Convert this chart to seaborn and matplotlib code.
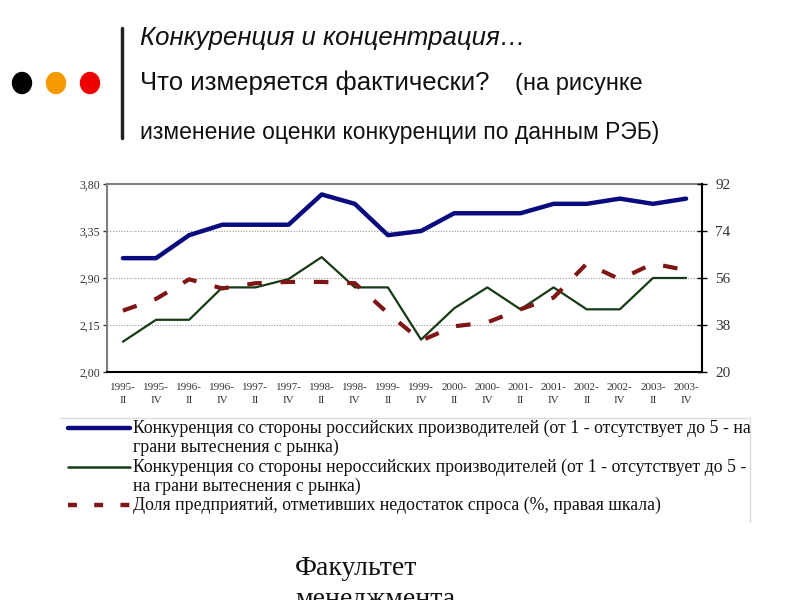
import matplotlib
matplotlib.use("Agg")
import matplotlib.pyplot as plt
import seaborn as sns
import pandas as pd
import numpy as np
from matplotlib.lines import Line2D
from matplotlib.patches import Ellipse

sns.set_theme(style="white")
plt.rcParams['font.family'] = ['Liberation Serif', 'DejaVu Serif']

periods = ["1995-\nII", "1995-\nIV", "1996-\nII", "1996-\nIV", "1997-\nII", "1997-\nIV",
           "1998-\nII", "1998-\nIV", "1999-\nII", "1999-\nIV", "2000-\nII", "2000-\nIV",
           "2001-\nII", "2001-\nIV", "2002-\nII", "2002-\nIV", "2003-\nII", "2003-\nIV"]
russian = [3.09, 3.09, 3.31, 3.41, 3.41, 3.41, 3.70, 3.61, 3.31, 3.35, 3.52, 3.52,
           3.52, 3.61, 3.61, 3.66, 3.61, 3.66]
foreign = [2.29, 2.50, 2.50, 2.81, 2.81, 2.89, 3.10, 2.81, 2.81, 2.31, 2.61, 2.81,
           2.60, 2.81, 2.60, 2.60, 2.90, 2.90]
demand = [43.5, 48.0, 55.5, 52.0, 54.0, 54.5, 54.5, 54.0, 42.5, 32.0, 37.5, 39.0,
          44.0, 48.5, 61.5, 55.5, 61.5, 59.0]
left_ticks = [2.00, 2.45, 2.90, 3.35, 3.80]
left_labels = ["2,00", "2,15", "2,90", "3,35", "3,80"]
right_ticks = [20, 38, 56, 74, 92]
legend_labels = [
    "Конкуренция со стороны российских производителей (от 1 - отсутствует до 5 - на\nграни вытеснения с рынка)",
    "Конкуренция со стороны нероссийских производителей (от 1 - отсутствует до 5 -\nна грани вытеснения с рынка)",
    "Доля предприятий, отметивших недостаток спроса (%, правая шкала)",
]
title1 = "Конкуренция и концентрация…"
title2a = "Что измеряется фактически?"
title2b = "(на рисунке"
title3 = "изменение оценки конкуренции по данным РЭБ)"
footer = "Факультет\nменеджмента"

df = pd.DataFrame({"x": np.arange(len(periods)), "russian": russian,
                   "foreign": foreign, "demand": demand})

c_blue = "#0b0b80"
c_green = "#163a16"
c_red = "#7f1515"

fig = plt.figure(figsize=(8, 6), dpi=100)
W, H = 800, 600

def fx(px):
    return px / W

def fy(py):
    return 1 - py / H

ax = fig.add_axes([fx(107), fy(372), fx(702) - fx(107), fy(184) - fy(372)])
ax2 = ax.twinx()

sns.lineplot(data=df, x="x", y="russian", ax=ax, color=c_blue, linewidth=3.2)
sns.lineplot(data=df, x="x", y="foreign", ax=ax, color=c_green, linewidth=1.6)
sns.lineplot(data=df, x="x", y="demand", ax=ax2, color=c_red, linewidth=3.0,
             dashes=False)
ax2.lines[0].set_dashes([3.5, 4.5])

ax.set_xlim(-0.48, len(periods) - 1 + 0.48)
ax.set_ylim(2.00, 3.80)
ax2.set_ylim(20, 92)
ax.set_xticks(df["x"])
ax.set_xticklabels(periods, fontsize=8, color="#333333", linespacing=1.5)
ax.set_yticks(left_ticks)
ax.set_yticklabels(left_labels, fontsize=8.5, color="#333333")
ax2.set_yticks(right_ticks)
ax2.set_yticklabels([str(t) for t in right_ticks], fontsize=11, color="#333333")
ax.set_xlabel("")
ax.set_ylabel("")
ax2.set_ylabel("")

for t in left_ticks[1:-1]:
    ax.axhline(t, color="#999999", linestyle=(0, (1, 1.5)), linewidth=0.8, zorder=0)

ax.tick_params(axis="x", length=0, pad=8)
ax.tick_params(axis="y", direction="out", length=3, width=1, color="#333333", pad=2)
ax2.tick_params(axis="y", direction="inout", length=7, width=1, color="black", pad=6)

for s in ["top", "left"]:
    ax.spines[s].set_color("#808080")
    ax.spines[s].set_linewidth(1.5)
ax.spines["bottom"].set_color("black")
ax.spines["bottom"].set_linewidth(1.5)
ax.spines["right"].set_visible(False)
ax2.spines["right"].set_color("black")
ax2.spines["right"].set_linewidth(1.5)
for s in ["top", "left", "bottom"]:
    ax2.spines[s].set_visible(False)
ax.set_facecolor("white")

# legend (manual, figure coordinates)
fig.add_artist(Line2D([fx(60), fx(750)], [fy(418), fy(418)], color="#dddddd", lw=1))
fig.add_artist(Line2D([fx(750), fx(750)], [fy(418), fy(522)], color="#dddddd", lw=1))
handles = [(c_blue, 3.2, "-", 428), (c_green, 1.8, "-", 467), (c_red, 3.2, "--", 505)]
for (c, lw, ls, y) in handles:
    ln = Line2D([fx(68), fx(130)], [fy(y), fy(y)], color=c, lw=lw,
                solid_capstyle="round")
    if ls == "--":
        ln.set_dashes([2.0, 3.9])
    fig.add_artist(ln)
legend_rows = [428, 467, 505]
for lab, y in zip(legend_labels, legend_rows):
    for i, l in enumerate(lab.split("\n")):
        fig.text(fx(133), fy(y + i * 19.5), l, fontsize=12.8, va="center", ha="left",
                 color="#111111")

# header
for xc, c in [(22, "black"), (56, "#f59a00"), (90, "#ee0000")]:
    fig.add_artist(Ellipse((fx(xc), fy(83)), 19 / W, 21 / H, color=c,
                           transform=fig.transFigure))
fig.add_artist(Line2D([fx(122), fx(122)], [fy(28), fy(138)], color="#222222", lw=2.5))
sans = ['Liberation Sans', 'DejaVu Sans']
fig.text(fx(140), fy(38), title1, fontsize=18.5, style="italic", family=sans,
         va="center", ha="left", color="#111111")
fig.text(fx(140), fy(83), title2a, fontsize=18.5, family=sans,
         va="center", ha="left", color="#111111")
fig.text(fx(515), fy(84), title2b, fontsize=17, family=sans,
         va="center", ha="left", color="#111111")
fig.text(fx(140), fy(133), title3, fontsize=16.5, family=sans,
         va="center", ha="left", color="#111111")

fig.text(fx(295), fy(556), footer, fontsize=20, va="top", ha="left",
         color="#111111", linespacing=1.3)

fig.savefig("out.png", dpi=100)
